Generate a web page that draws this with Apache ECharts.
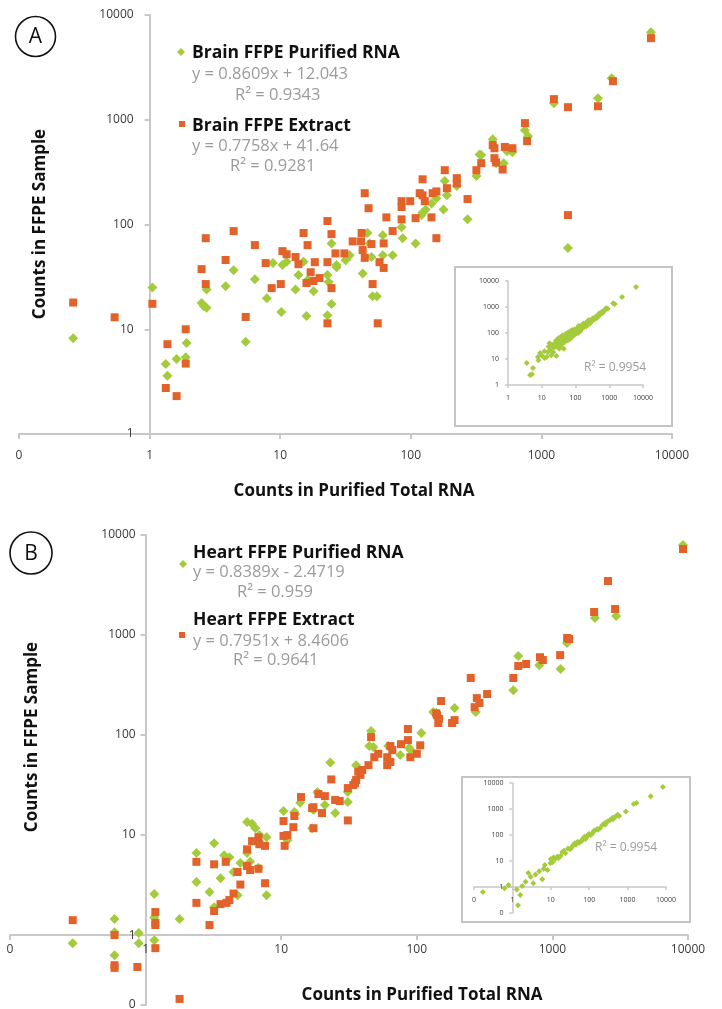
<!DOCTYPE html>
<html><head><meta charset="utf-8">
<script src="https://cdn.jsdelivr.net/npm/echarts@6/dist/echarts.min.js"></script>
<style>html,body{margin:0;padding:0;background:#fff}#c{width:722px;height:1009px}</style>
</head><body><div id="c"></div>
<script>
// ---------- DATA ----------
const xTickLabelsMain = ['0','1','10','100','1000','10000'];
const yTickLabelsMain = ['1','10','100','1000','10000'];

const brainPurified = [[0.26,8.2],[1.05,25],[1.33,4.65],[1.37,3.6],[1.61,5.2],[1.89,5.4],[1.92,7.4],[2.5,17.8],[2.6,16.6],[2.73,16],[2.73,24],[3.82,25.8],[4.4,36.6],[5.44,7.6],[6.4,30],[7.9,19.8],[8.8,42.8],[10.2,14.6],[10.4,41],[11.2,44],[13.1,24],[13.8,33],[15.1,44],[15.9,13.4],[16.2,29.6],[18,23],[23,33],[23,13.6],[23.5,28.2],[24.7,17.4],[24.7,66],[27,41],[27,39],[31.7,45.6],[32,46.6],[34,51],[42.8,34],[46.6,83],[48.4,66],[50,49],[51,20.7],[55,20.7],[61,79],[61,51],[72.6,51],[85,94],[86.6,74],[108.8,66],[121,123],[123,130],[130,139],[144,159],[157,178],[178,139],[182,260],[189,190],[225,233],[272,112],[318,290],[336,467],[346,460],[424,650],[450,385],[515,385],[545,500],[600,490],[748,795],[790,695],[1247,1439],[1597,59.6],[2710,1608],[3450,2495],[6900,6860]];

const brainExtract = [[0.26,18],[0.54,13],[1.05,17.5],[1.37,7.2],[1.33,2.75],[1.61,2.3],[1.89,10],[1.89,4.7],[2.5,37.5],[2.69,74],[2.69,27],[3.82,45.8],[4.4,86.5],[5.44,13.1],[6.4,63.6],[7.74,42.8],[8.6,24.7],[10.1,27],[10.4,55.7],[11.2,52],[13.1,49],[13.8,41.8],[15.1,83],[16.2,63.6],[18.4,43.7],[17.1,35],[15.9,27.6],[18,28.9],[20,30.8],[23,108],[24.7,81],[23,43.7],[24.7,24.7],[23,11.4],[26.5,53],[31,53],[35.9,69],[44.4,199],[47.5,143],[42,83],[41.6,69],[42.8,57],[44.4,48],[50,65],[57.6,43.7],[62,38.5],[62,66],[51,27],[55.8,11.4],[65,117],[72.6,86.6],[85,167],[85,147],[85,112],[99,167],[108.8,115],[117,199],[123,270],[123,190],[128,167],[144,117],[147,199],[157,207],[157,74],[182,330],[189,222],[225,277],[225,247],[272,175],[318,330],[346,385],[424,573],[437,535],[437,430],[450,391],[505,335],[525,550],[600,535],[748,929],[777,625],[1247,1574],[1597,1318],[1597,123],[2710,1345],[3530,2335],[6900,6010]];

const brainInset = [[3.6,7],[4.5,2.4],[5.1,2.6],[5.5,4.5],[7.7,12],[8.9,17],[8,9],[12,11],[14,12],[16,30],[18,22],[20,35],[22,18],[25,40],[28,30],[30,55],[33,25],[35,45],[38,70],[40,38],[45,60],[50,90],[55,50],[60,75],[65,110],[70,60],[75,95],[80,130],[90,80],[100,120],[110,150],[120,100],[130,170],[150,140],[160,200],[180,170],[200,240],[220,210],[250,280],[280,260],[300,330],[350,320],[400,420],[450,400],[500,560],[550,520],[600,650],[700,700],[800,900],[900,850],[1300,1400],[1450,1300],[2400,2400],[6200,5900],[15,18],[24,28],[42,52],[58,65],[85,100],[95,140],[140,120],[190,210],[260,300],[320,300],[380,400],[12,20],[10,14],[19,14],[27,13],[45,25],[17,40],[21,28],[26,50],[29,35],[32,65],[36,30],[41,80],[47,45],[52,70],[57,100],[63,55],[68,85],[73,120],[78,70],[88,115],[105,95],[115,135],[125,190],[135,130],[170,230],[210,180],[240,310],[270,230],[330,370],[420,380],[480,500],[650,600],[750,800]];

const heartPurified = [[0.29,0.83],[0.59,1.45],[0.59,1.07],[0.59,0.63],[0.89,1.05],[0.89,0.83],[1.16,2.57],[1.16,1.5],[1.16,0.89],[1.78,1.45],[2.37,6.6],[2.37,3.4],[2.96,2.7],[3.2,8.3],[3.2,1.9],[3.57,3.7],[3.8,6.3],[4.15,6.0],[4.45,4.27],[4.77,2.5],[5.0,5.25],[5.6,13.5],[6.1,13],[6.45,11.7],[6.9,10],[5.6,6.6],[5.9,5.4],[6.8,4.7],[7.8,9.5],[7.8,2.5],[10.4,17.4],[11.1,8.9],[12.5,17],[12.7,16.2],[13.8,21],[16.9,11.7],[17.3,17.8],[18.5,27],[21,20],[23,53],[25,16.6],[31,21.4],[31,27],[35.7,50],[44.6,77.6],[46,110],[47.8,76],[61.6,77.6],[75.5,63],[88,74],[89.6,70.8],[108,105],[132,170],[139,166],[190,186],[272,170],[515,280],[560,617],[800,500],[1150,457],[1280,830],[2060,1480],[2950,1550],[9190,7940]];

const heartExtract = [[0.29,1.41],[0.59,1.0],[0.59,0.5],[0.59,0.47],[0.87,0.48],[1.18,1.7],[1.18,1.32],[1.18,1.26],[1.18,0.74],[1.78,0.23],[2.37,5.4],[2.37,2.1],[2.96,1.26],[3.2,5.1],[3.2,1.74],[3.57,2.04],[3.9,5.4],[3.95,2.1],[4.15,2.24],[4.45,2.6],[4.77,4.27],[5.0,3.2],[5.6,7.2],[5.6,4.9],[5.9,4.47],[6.1,8.7],[6.8,9.5],[6.9,8.1],[6.8,4.6],[7.6,7.8],[7.6,3.3],[10.4,13.8],[10.4,9.8],[10.6,7.8],[11.1,10],[12.3,12],[12.5,15.5],[14,24],[16.9,18.6],[17.3,11.7],[17.3,19],[18.8,25.7],[20,16.6],[21,24.5],[23.4,36],[25,22.4],[27,21.9],[31,14],[31,29.5],[34,31.6],[35,33],[35.7,35.5],[37,43],[38.4,40],[39.6,44.7],[44,50],[46,95.5],[48.6,60],[52,65],[60.5,60],[60.5,50],[63.8,77.6],[63.8,53.7],[66,70.8],[76.5,81],[86,115],[86,89],[89.6,60],[100,65],[106,79],[139,165],[141,158],[144,132],[146,145],[151,219],[182,132],[190,141],[250,372],[267,190],[277,234],[290,209],[330,257],[515,372],[560,490],[640,513],[810,600],[850,562],[1140,630],[1284,933],[1330,912],[2030,1700],[2570,3470],[2900,1820],[9190,7240]];

const heartInset = [[0.17,0.64],[0.62,0.9],[0.79,1.2],[1.4,0.2],[1.6,0.49],[1.3,0.8],[1.8,1.1],[2.6,3.45],[2.2,1.6],[3.5,1.4],[3,2.5],[4,3],[5,4],[6,2],[6.5,5],[8.2,4.5],[9.8,8.4],[11,9],[13,12],[15,15],[18,16],[20,22],[24,20],[28,30],[32,28],[38,40],[45,42],[50,55],[60,58],[70,75],[80,70],[90,95],[100,110],[120,115],[140,150],[160,170],[190,180],[220,240],[260,250],[300,330],[350,380],[420,400],[500,530],[600,540],[900,800],[1450,1550],[1700,1700],[4000,3100],[8300,7000],[10,12],[7,7],[12,14],[16,13],[22,25],[35,33],[55,50],[75,85],[110,100],[130,140],[250,280],[400,450],[42,48],[65,60],[85,80],[95,105],[170,160],[280,300],[450,480],[550,600]];

const labelsA = {title:'Brain FFPE Purified RNA', eq:'y = 0.8609x + 12.043', r2:'R² = 0.9343', title2:'Brain FFPE Extract', eq2:'y = 0.7758x + 41.64', r22:'R² = 0.9281', inset:'R² = 0.9954'};
const labelsB = {title:'Heart FFPE Purified RNA', eq:'y = 0.8389x - 2.4719', r2:'R² = 0.959', title2:'Heart FFPE Extract', eq2:'y = 0.7951x + 8.4606', r22:'R² = 0.9641', inset:'R² = 0.9954'};
const axisTitleX = 'Counts in Purified Total RNA';
const axisTitleY = 'Counts in FFPE Sample';

// axis ranges
const rangeA = {xmin:0.1, xmax:10000, ymin:1, ymax:10000};
const rangeAi = {xmin:1, xmax:10000, ymin:1, ymax:10000};
const rangeB = {xmin:0.1, xmax:10000, ymin:0.2, ymax:10000};
const rangeBi = {xmin:0.1, xmax:10000, ymin:0.1, ymax:10000};

// ---------- LAYOUT ----------
const FONT = '"Open Sans"';
const GREEN = '#a4cb3b', ORANGE = '#e2622a', AXIS = '#c8c8c8', TXT = '#3a3a3a', GREY = '#9b9b9b';
const gA  = {left:19,  top:15,  width:653, height:419};
const gAi = {left:508, top:281, width:135, height:104};
const gB  = {left:10,  top:535, width:678, height:470};
const gBi = {left:474, top:783, width:192, height:130};

const L = Math.log10;
function crossOffset(size, min, max) { return -size * (L(1) - L(min)) / (L(max) - L(min)); }
function fmt(v){ return v < 0.999 ? '0' : String(Math.round(v)); }

function xAxis(gi, r, g, o) {
  return {type:'log', logBase:10, gridIndex:gi, min:r.xmin, max:r.xmax, position:'bottom',
    offset: r.ymin < 1 ? crossOffset(g.height, r.ymin, r.ymax) : 0,
    splitLine:{show:false}, minorTick:{show:false},
    axisLine:{show:true, lineStyle:{color:AXIS, width:o.lw}},
    axisTick:{show:true, length:o.tl, lineStyle:{color:AXIS, width:o.lw}},
    axisLabel:{show:true, showMinLabel:true, showMaxLabel:true, margin:o.m, color:TXT, fontFamily:FONT, fontSize:o.fs, formatter:fmt}};
}
function yAxis(gi, r, g, o) {
  return {type:'log', logBase:10, gridIndex:gi, min:r.ymin, max:r.ymax, position:'left',
    offset: r.xmin < 1 ? crossOffset(g.width, r.xmin, r.xmax) : 0,
    splitLine:{show:false}, minorTick:{show:false},
    axisLine:{show:true, lineStyle:{color:AXIS, width:o.lw}},
    axisTick:{show:true, length:o.tl, lineStyle:{color:AXIS, width:o.lw}},
    axisLabel:{show:true, showMinLabel:true, showMaxLabel:true, margin:o.ym, color:TXT, fontFamily:FONT, fontSize:o.fs, formatter:fmt}};
}
const mainA = {lw:2, tl:5, m:16, ym:16, fs:12};
const mainB = {lw:2, tl:5, m:8, ym:10, fs:12};
const ins = {lw:1.5, tl:3, m:9, ym:9, fs:7};

function grid(g){ return Object.assign({outerBoundsMode:'none', containLabel:false, show:false}, g); }

function sc(data, xi, sym, size, color, z){
  return {type:'scatter', xAxisIndex:xi, yAxisIndex:xi, data:data, symbol:sym, symbolSize:size,
    itemStyle:{color:color, opacity:1}, z:z, silent:true, animation:false};
}

function txt(x,y,t,o){ return {type:'text', x:x, y:y, style:Object.assign({text:t, fontFamily:FONT, fill:TXT, textVerticalAlign:'middle', verticalAlign:'middle'}, o||{}), z:100}; }

const TS = 17.5, ES = 16.5;
function legendBlock(lab, x0, offs){
  return [
    txt(x0, offs[0], lab.title, {fontSize:TS, fontWeight:'bold', fill:'#111'}),
    txt(x0, offs[1], lab.eq, {fontSize:ES, fill:GREY}),
    txt(x0+offs[2], offs[3], lab.r2, {fontSize:ES, fill:GREY}),
    txt(x0, offs[4], lab.title2, {fontSize:TS, fontWeight:'bold', fill:'#111'}),
    txt(x0, offs[5], lab.eq2, {fontSize:ES, fill:GREY}),
    txt(x0+offs[6], offs[7], lab.r22, {fontSize:ES, fill:GREY})
  ];
}
function diamond(cx, cy, s){ return {type:'polygon', shape:{points:[[cx,cy-s],[cx+s,cy],[cx,cy+s],[cx-s,cy]]}, style:{fill:GREEN}, z:100}; }
function square(cx, cy, s){ return {type:'rect', shape:{x:cx-s, y:cy-s, width:2*s, height:2*s}, style:{fill:ORANGE}, z:100}; }
function vtitle(x, y){ return {type:'text', x:x, y:y, rotation:Math.PI/2, style:{text:axisTitleY, fontFamily:FONT, fontSize:17, fontWeight:'bold', fill:'#111', align:'center', verticalAlign:'middle'}, z:100}; }

const chart = echarts.init(document.getElementById('c'), null, {renderer:'canvas'});
chart.setOption({
  animation:false,
  backgroundColor:'#fff',
  grid:[grid(gA), grid(gAi), grid(gB), grid(gBi)],
  xAxis:[xAxis(0,rangeA,gA,mainA), xAxis(1,rangeAi,gAi,ins), xAxis(2,rangeB,gB,mainB), xAxis(3,rangeBi,gBi,ins)],
  yAxis:[yAxis(0,rangeA,gA,mainA), yAxis(1,rangeAi,gAi,ins), yAxis(2,rangeB,gB,mainB), yAxis(3,rangeBi,gBi,ins)],
  series:[
    sc(brainPurified,0,'diamond',10,GREEN,2),
    sc(brainExtract,0,'rect',8,ORANGE,3),
    sc(brainInset,1,'diamond',6,GREEN,4),
    sc(heartPurified,2,'diamond',10,GREEN,2),
    sc(heartExtract,2,'rect',8,ORANGE,3),
    sc(heartInset,3,'diamond',6,GREEN,4)
  ],
  graphic:[
    {type:'circle', shape:{cx:35.5, cy:36.5, r:20}, style:{fill:'none', stroke:'#111', lineWidth:1.6}, z:100},
    txt(35.5, 37.5, 'A', {fontSize:21, fill:'#111', textAlign:'center', align:'center'}),
    {type:'circle', shape:{cx:31, cy:553, r:21}, style:{fill:'none', stroke:'#111', lineWidth:1.6}, z:100},
    txt(31, 554, 'B', {fontSize:21, fill:'#111', textAlign:'center', align:'center'}),
    diamond(181, 52, 4), square(182, 124, 3),
    ...legendBlock(labelsA, 192, [53, 74, 43, 95, 126, 146, 38, 166]),
    diamond(183, 564, 4), square(182, 635, 3),
    ...legendBlock(labelsB, 193, [553, 572, 44, 592, 620, 641, 40, 660]),
    {type:'rect', shape:{x:455, y:267, width:217, height:159}, style:{fill:'none', stroke:'#c4c4c4', lineWidth:2}, z:100},
    {type:'rect', shape:{x:462, y:777, width:228, height:145}, style:{fill:'none', stroke:'#c4c4c4', lineWidth:2}, z:100},
    txt(584, 368, labelsA.inset, {fontSize:12, fill:GREY}),
    txt(595, 848, labelsB.inset, {fontSize:12, fill:GREY}),
    txt(354, 491, axisTitleX, {fontSize:17, fontWeight:'bold', fill:'#111', textAlign:'center', align:'center'}),
    txt(422, 995, axisTitleX, {fontSize:17, fontWeight:'bold', fill:'#111', textAlign:'center', align:'center'}),
    vtitle(40, 224),
    vtitle(32, 737)
  ]
});
</script></body></html>
